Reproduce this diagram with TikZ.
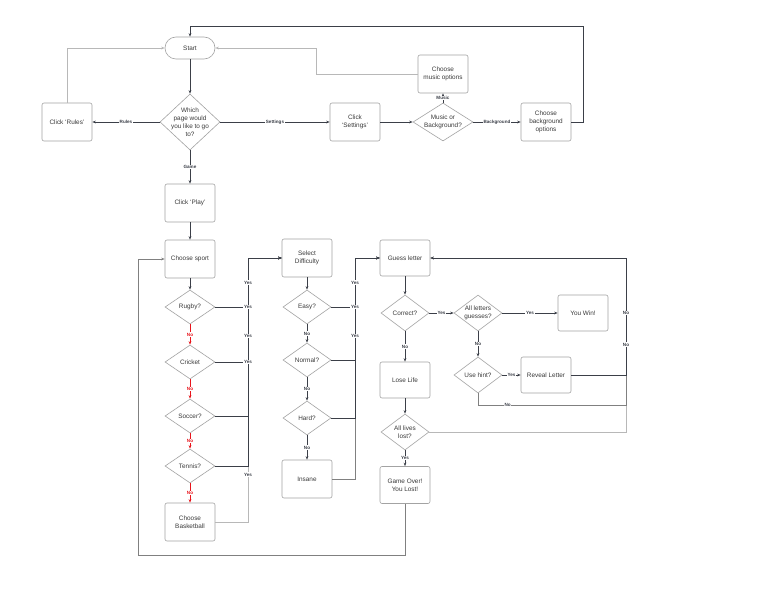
\documentclass[tikz,border=0pt]{standalone}
\usepackage{fontspec}
\setmainfont{Liberation Sans}
\usetikzlibrary{shapes.geometric,arrows.meta}
\definecolor{dk}{HTML}{3B3F48}
\definecolor{lt}{HTML}{B8B8B8}
\definecolor{md}{HTML}{808080}
\definecolor{bd}{HTML}{A3A3A3}
\definecolor{tx}{HTML}{3A3A3A}
\definecolor{rd}{HTML}{E8141B}
\begin{document}
\begin{tikzpicture}[x=1pt,y=-1pt,
 box/.style={draw=bd, rounded corners=2pt, minimum width=50pt, minimum height=38pt, inner sep=1pt, align=center, font=\fontsize{6.4}{8}\selectfont, text=tx, line width=0.6pt},
 dia/.style={draw=bd, diamond, inner sep=0pt, line width=0.6pt},
 dtxt/.style={align=center, font=\fontsize{6.4}{8}\selectfont, text=tx},
 lbl/.style={fill=white, inner sep=0.6pt, font=\bfseries\fontsize{4.6}{5}\selectfont, text=dk},
 rlbl/.style={lbl, text=rd},
 ar/.style={-{Stealth[length=3.5pt,width=2.6pt]}, line width=0.9pt, draw=dk},
 ln/.style={line width=0.9pt, draw=dk}]
\useasboundingbox[fill=white] (0,0) rectangle (768,615);

% top section
\node[box, rounded corners=11pt, minimum height=22pt] (start) at (190,48) {Start};
\node[dia, minimum width=60pt, minimum height=56pt, label={[dtxt]center:{Which\\page would\\you like to go\\to?}}] (which) at (190,122) {};
\node[box] (rules) at (67,122) {Click `Rules'};
\node[box] (settings) at (355,122) {Click\\`Settings'};
\node[dia, minimum width=60pt, minimum height=38pt, label={[dtxt]center:{Music or\\Background?}}] (mob) at (443,122) {};
\node[box] (music) at (443,74) {Choose\\music options};
\node[box] (bg) at (546,122) {Choose\\background\\options};
\node[box] (play) at (190,203) {Click `Play'};

% sport column
\node[box] (sport) at (190,259) {Choose sport};
\node[dia, minimum width=50pt, minimum height=34pt, label={[dtxt]center:Rugby?}] (rugby) at (190,307) {};
\node[dia, minimum width=50pt, minimum height=34pt, label={[dtxt]center:Cricket}] (cricket) at (190,362) {};
\node[dia, minimum width=50pt, minimum height=34pt, label={[dtxt]center:Soccer?}] (soccer) at (190,416) {};
\node[dia, minimum width=50pt, minimum height=34pt, label={[dtxt]center:Tennis?}] (tennis) at (190,466) {};
\node[box] (bball) at (190,522) {Choose\\Basketball};

% difficulty column
\node[box] (diff) at (307,258) {Select\\Difficulty};
\node[dia, minimum width=48pt, minimum height=34pt, label={[dtxt]center:Easy?}] (easy) at (307,307) {};
\node[dia, minimum width=48pt, minimum height=34pt, label={[dtxt]center:Normal?}] (normal) at (307,360) {};
\node[dia, minimum width=48pt, minimum height=34pt, label={[dtxt]center:Hard?}] (hard) at (307,418) {};
\node[box] (insane) at (307,479) {Insane};

% guess column
\node[box, minimum height=36pt] (guess) at (405,258) {Guess letter};
\node[dia, minimum width=48pt, minimum height=36pt, label={[dtxt]center:Correct?}] (correct) at (405,313) {};
\node[dia, minimum width=48pt, minimum height=36pt, label={[dtxt]center:{All letters\\guesses?}}] (alll) at (478,313) {};
\node[box, minimum height=36pt] (win) at (583,313) {You Win!};
\node[dia, minimum width=48pt, minimum height=36pt, label={[dtxt]center:Use hint?}] (hint) at (478,375) {};
\node[box, minimum height=36pt] (reveal) at (546,375) {Reveal Letter};
\node[box, minimum height=36pt] (lose) at (405,380) {Lose Life};
\node[dia, minimum width=48pt, minimum height=36pt, label={[dtxt]center:{All lives\\lost?}}] (lives) at (405,432) {};
\node[box, minimum height=37pt] (over) at (405,485) {Game Over!\\You Lost!};

% top connectors
\draw[ar] (start) -- (which);
\draw[ar] (which) -- node[lbl]{Rules} (rules);
\draw[ar, draw=lt] (rules.north) |- (start.west);
\draw[ar] (which) -- node[lbl]{Settings} (settings);
\draw[ar] (settings) -- (mob);
\draw[ar] (mob) -- node[lbl]{Music} (music);
\draw[ar] (mob) -- node[lbl]{Background} (bg);
\draw[ar, draw=lt] (music.west) -- (316,74) |- (start.east);
\coordinate (tr) at (583,26);
\coordinate (tl) at (190,26);
\draw[ar] (bg.east) -- (tr |- bg.east) -- (tr) -- (tl) -- (start.north);
\draw[ar] (which) -- node[lbl]{Game} (play);
\draw[ar] (play) -- (sport);

% sport connectors
\draw[ar] (sport) -- (rugby);
\draw[ar, draw=rd] (rugby) -- node[rlbl]{No} (cricket);
\draw[ar, draw=rd] (cricket) -- node[rlbl]{No} (soccer);
\draw[ar, draw=rd] (soccer) -- node[rlbl]{No} (tennis);
\draw[ar, draw=rd] (tennis) -- node[rlbl]{No} (bball);
\draw[ar, draw=lt] (bball.east) -- (248,522) -- node[lbl, pos=0.18]{Yes} (248,258) -- (diff.west);
\draw[ar] (tennis.east) -- (248,466) -- (248,258) -- (diff.west);
\draw[ar] (soccer.east) -- (248,416) -- (248,258) -- (diff.west);
\draw[ar] (cricket.east) -- (248,362) node[lbl]{Yes} -- node[lbl]{Yes} (248,310) -- (248,258) -- (diff.west);
\draw[ar] (rugby.east) -- (248,307) node[lbl]{Yes} -- node[lbl]{Yes} (248,258) -- (diff.west);

% difficulty connectors
\draw[ar] (diff) -- (easy);
\draw[ar] (easy) -- node[lbl]{No} (normal);
\draw[ar] (normal) -- node[lbl]{No} (hard);
\draw[ar] (hard) -- node[lbl]{No} (insane);
\draw[ar, draw=md] (insane.east) -- (355,479) -- (355,258) -- (guess.west);
\draw[ar] (hard.east) -- (355,418) -- (355,258) -- (guess.west);
\draw[ar] (normal.east) -- (355,360) -- node[lbl]{Yes} (355,312) -- (355,258) -- (guess.west);
\draw[ar] (easy.east) -- (355,307) node[lbl]{Yes} -- node[lbl]{Yes} (355,258) -- (guess.west);

% guess connectors
\draw[ar] (guess) -- (correct);
\draw[ar] (correct) -- node[lbl]{Yes} (alll);
\draw[ar] (alll) -- node[lbl]{Yes} (win);
\draw[ar] (alll) -- node[lbl]{No} (hint);
\draw[ar] (hint) -- node[lbl]{Yes} (reveal);
\draw[ar] (correct) -- node[lbl]{No} (lose);
\draw[ar] (lose) -- (lives);
\draw[ar] (lives) -- node[lbl]{Yes} (over);
\draw[ar, draw=lt] (lives.east) -- (626,432) -- (626,258) -- (guess.east);
\draw[ar, draw=md] (hint.south) -- (478,405) -- node[lbl, pos=0.2]{No} (626,405) -- (626,258) -- (guess.east);
\draw[ar] (reveal.east) -- (626,375) -- node[lbl, pos=0.26]{No} node[lbl, pos=0.53]{No} (626,258) -- (guess.east);
\draw[ar, draw=md] (over.south) -- (405,555) -- (138,555) -- (138,259) -- (sport.west);
\end{tikzpicture}
\end{document}
